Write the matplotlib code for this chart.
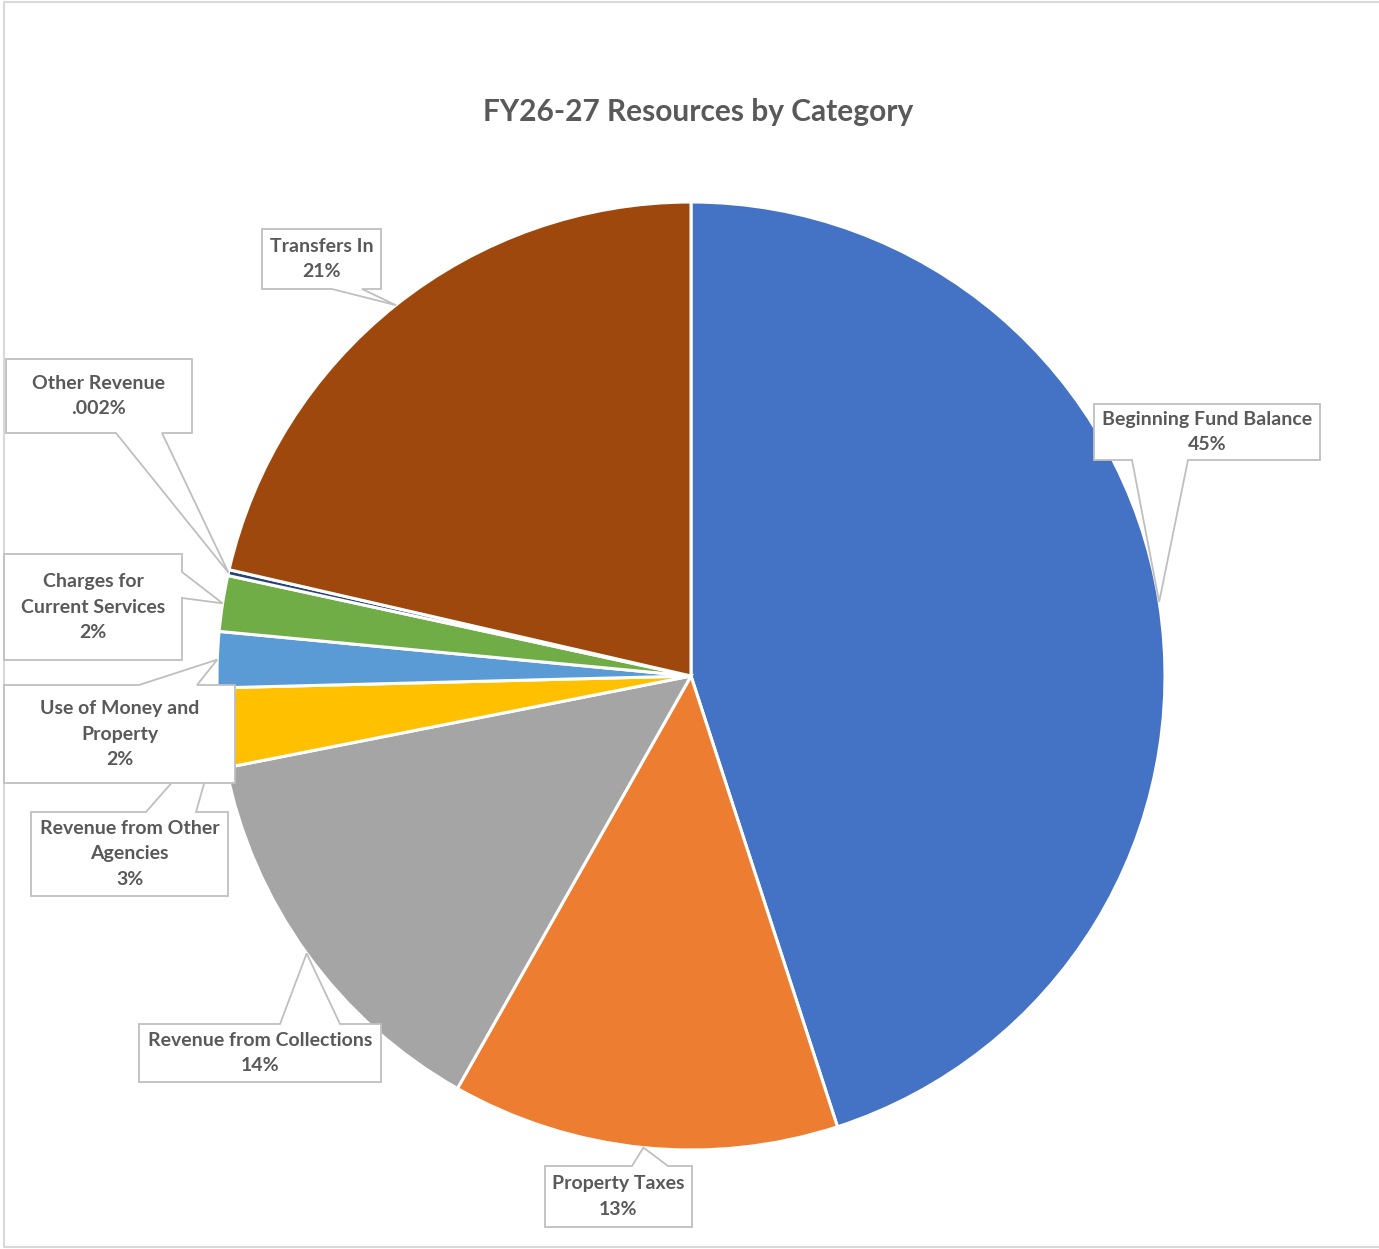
import numpy as np
import matplotlib.pyplot as plt
from matplotlib.patches import Polygon

# Resource shares by category (fraction of total)
categories = ['Beginning Fund Balance', 'Property Taxes', 'Revenue from Collections',
              'Revenue from Other\nAgencies', 'Use of Money and\nProperty',
              'Charges for\nCurrent Services', 'Other Revenue', 'Transfers In']
shares = [0.45, 0.132, 0.137, 0.027, 0.019, 0.019, 0.002, 0.214]
pct_labels = ['45%', '13%', '14%', '3%', '2%', '2%', '.002%', '21%']
colors = ['#4472C4', '#ED7D31', '#A5A5A5', '#FFC000', '#5B9BD5', '#70AD47', '#264478', '#9E480E']

W, H = 1379, 1249
fig = plt.figure(figsize=(W / 100, H / 100), dpi=100)
ax = fig.add_axes([0, 0, 1, 1])

cx, cy, R = 691, H - 676, 474
ax.pie(shares, colors=colors, startangle=90, counterclock=False,
       center=(cx, cy), radius=R,
       wedgeprops=dict(edgecolor='white', linewidth=2.2))
ax.set_xlim(0, W)
ax.set_ylim(0, H)
ax.set_aspect('equal')
ax.axis('off')

# chart border
ax.plot([W + 5, 4, 4, W + 5], [H - 2, H - 2, 2, 2], color='#D9D9D9', lw=1.5, clip_on=False)

ax.text(698, H - 112, 'FY26-27 Resources by Category', ha='center', va='center',
        fontsize=21.5, fontweight='bold', color='#595959', family='Lato')

# callout boxes: (x0, y0, x1, y1) in pixels from top-left, pointer side, pointer base
boxes = [
    ((1094, 404, 1320, 460), 'bottom', (1132, 1188)),
    ((545, 1166, 692, 1227), 'top', (632, 668)),
    ((139, 1024, 381, 1082), 'top', (280, 340)),
    ((31, 812, 228, 896), 'top', (146, 196)),
    ((4, 685, 235, 783), 'top', (139, 197)),
    ((4, 554, 182, 660), 'right', (572, 598)),
    ((6, 359, 192, 433), 'bottom', (116, 162)),
    ((262, 229, 381, 289), 'bottom', (332, 362)),
]

cum = np.concatenate([[0], np.cumsum(shares)])
mids = (cum[:-1] + cum[1:]) / 2 * 360

for i, ((x0, y0, x1, y1), side, (b0, b1)) in enumerate(boxes):
    th = np.radians(mids[i])
    tip = (cx + R * np.sin(th), cy + R * np.cos(th))
    # convert to data coords (y up)
    Y0, Y1 = H - y0, H - y1
    if side == 'bottom':
        verts = [(x0, Y0), (x1, Y0), (x1, Y1), (b1, Y1), tip, (b0, Y1), (x0, Y1)]
    elif side == 'top':
        verts = [(x0, Y0), (b0, Y0), tip, (b1, Y0), (x1, Y0), (x1, Y1), (x0, Y1)]
    else:
        verts = [(x0, Y0), (x1, Y0), (x1, H - b0), tip, (x1, H - b1), (x1, Y1), (x0, Y1)]
    z = 5 + i
    ax.add_patch(Polygon(verts, closed=True, fc='white', ec='#BFBFBF', lw=1.3,
                         zorder=z, clip_on=False))
    ax.text((x0 + x1) / 2, (Y0 + Y1) / 2, categories[i] + '\n' + pct_labels[i],
            ha='center', va='center', fontsize=14, fontweight='bold', color='#595959',
            family='Lato', linespacing=1.62, zorder=z + 0.5)

fig.savefig('out.png', dpi=100)
